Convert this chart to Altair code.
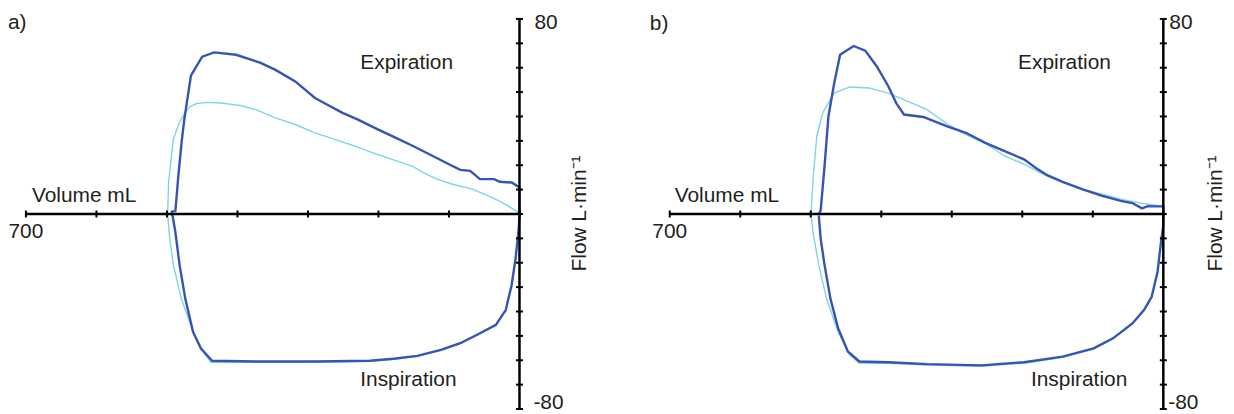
import altair as alt
import pandas as pd

# ---------------- data (volume mL, flow L/min) ----------------
# Panel a
a_dark_exp_vol = [493, 493, 488, 484, 479, 475.5, 466, 450, 433, 402, 368, 346, 318, 290, 279, 251, 229, 201, 179, 151, 123, 100, 84, 70, 56, 36, 28, 11, 0, 0]
a_dark_exp_flow = [0, 1, 1.2, 15, 30, 38.5, 56.7, 64.5, 66.3, 65.3, 62.1, 59.1, 54.4, 47.6, 45.8, 41.5, 38.7, 34.7, 31.7, 27.9, 23.8, 20.4, 18.1, 17.7, 14.3, 14.3, 13.2, 12.9, 10.9, 0]
a_dark_insp_vol = [0, 1, 5.6, 11.2, 19.5, 33.5, 56, 84, 111.5, 145, 178.5, 212, 290, 374, 436, 452, 463, 474, 482, 488, 492, 493]
a_dark_insp_flow = [0, -6, -18.4, -29.2, -39.4, -45.5, -48.9, -53, -55.7, -58.2, -59.4, -60.2, -60.5, -60.5, -60.2, -55.1, -48.3, -34.7, -21, -7.5, -0.7, 0]

a_light_exp_vol = [499, 497.6, 491, 482.4, 478, 468.6, 458, 443, 424, 396, 374, 346, 318, 290, 262, 234, 206, 178.5, 150.6, 136.7, 117, 95, 67, 39, 16.7, 5.6, 0]
a_light_exp_flow = [0, 12.9, 30.6, 37.5, 39.7, 43.8, 45.3, 45.8, 45.5, 44.5, 42.8, 39.4, 36.7, 33.3, 30.6, 27.9, 24.9, 22.2, 19.4, 17, 14.3, 12.2, 10.2, 6.8, 3.4, 1.4, 0]
a_light_insp_vol = [0, 1.1, 5.6, 11.2, 19.5, 33.5, 55.8, 83.7, 111.5, 145, 178.5, 212, 290, 374, 437.6, 448.8, 462.8, 479.7, 490.8, 496, 499]
a_light_insp_flow = [0, -6.3, -18.6, -29.4, -39.6, -45.7, -49.1, -53.2, -55.9, -58.4, -59.6, -60.4, -60.7, -60.8, -60.8, -56.4, -48.3, -34.7, -21, -10.2, 0]

# Panel b
b_dark_exp_vol = [488.6, 486, 480.4, 474.9, 466.7, 458.4, 439.2, 422.7, 406.3, 389.8, 378.8, 367.8, 340.4, 307.4, 280, 252.5, 225, 197.6, 181.2, 164.7, 142.7, 115.3, 87.8, 60.4, 43.9, 30.2, 22, 13.7, 0, 0]
b_dark_exp_flow = [0, 1.4, 19.7, 40.1, 53.7, 65.3, 68.9, 67, 60.5, 52.3, 45.5, 40.8, 39.8, 36, 33.3, 29.2, 25.8, 22.4, 19, 15.9, 13.2, 10.2, 7.5, 5.4, 4.5, 2.3, 3.2, 3.1, 3.1, 0]
b_dark_insp_vol = [0, 0, 2.7, 8.2, 16.5, 27.4, 43.9, 71.4, 98.8, 142.7, 197.6, 258, 334.9, 389.8, 431, 447.4, 461.2, 472.1, 480.4, 485.9, 488.6]
b_dark_insp_flow = [0, -4.8, -10.2, -23.8, -34, -39.4, -44.9, -51, -55.1, -58.5, -60.8, -62.1, -61.6, -60.8, -60.5, -56.4, -46.9, -34.7, -21, -10.2, -0.7]

b_light_exp_vol = [499.6, 496.8, 491.4, 483.1, 466.7, 444.7, 417.3, 389.8, 362.3, 334.9, 307.4, 280, 252.5, 225, 197.6, 170.1, 142.7, 115.3, 87.8, 60.4, 32.9, 5.5, 0]
b_light_exp_flow = [0, 14.3, 31.9, 41.5, 49.6, 52.1, 51.7, 49.6, 46.2, 42.8, 37.1, 32.6, 29, 23.8, 20.4, 16.3, 12.9, 10.2, 8.2, 6.1, 4.5, 3.4, 3.1]
b_light_insp_vol = [0, 2.7, 8.2, 16.5, 27.4, 43.9, 71.4, 98.8, 142.7, 197.6, 258, 334.9, 389.8, 431, 444.7, 461.2, 477.6, 488.6, 496.8, 499.6]
b_light_insp_flow = [-4.8, -10.4, -24, -34.2, -39.6, -45.1, -51.2, -55.3, -58.8, -61.2, -62.5, -62, -61.2, -61.2, -57.8, -48.3, -34.7, -21, -7.5, 0]

# Axis ticks and labels
flow_ticks = list(range(-80, 81, 10))
vol_ticks = list(range(0, 701, 100))
flow_labels = [80, -80]
vol_labels = [700]

DARK = "#3654b3"
LIGHT = "#7ed4ea"
INK = "#231f20"
FONT = "Liberation Sans"

H = 406
K = 496 / 700.0  # px per mL
PXF = 2.45        # px per L/min


def loop_df(exp_v, exp_f, insp_v, insp_f):
    v = exp_v + insp_v
    f = exp_f + insp_f
    return pd.DataFrame({"vol": v, "flow": f, "i": list(range(len(v)))})


def panel(dark, light, W, x0, letter, txt):
    xs = alt.Scale(domain=[700 + x0 / K, 700 - (W - x0) / K], nice=False, zero=False)
    ys = alt.Scale(domain=[80 - (H - 10) / PXF, 80 + 10 / PXF], nice=False, zero=False)
    X = lambda f: alt.X(f, type="quantitative", scale=xs, axis=None)
    Y = lambda f: alt.Y(f, type="quantitative", scale=ys, axis=None)

    light_line = alt.Chart(light).mark_line(color=LIGHT, strokeWidth=1.4).encode(
        x=X("vol"), y=Y("flow"), order="i:Q")
    dark_line = alt.Chart(dark).mark_line(color=DARK, strokeWidth=2.4).encode(
        x=X("vol"), y=Y("flow"), order="i:Q")

    vaxis = alt.Chart(pd.DataFrame({"vol": [0], "f1": [flow_ticks[-1]], "f2": [flow_ticks[0]]})).mark_rule(
        color="black", strokeWidth=2.5).encode(x=X("vol"), y=Y("f1"), y2="f2")
    haxis = alt.Chart(pd.DataFrame({"v1": [vol_ticks[-1]], "v2": [vol_ticks[0]], "flow": [0]})).mark_rule(
        color="black", strokeWidth=2.5).encode(x=X("v1"), x2="v2", y=Y("flow"))
    vt = alt.Chart(pd.DataFrame({"vol": [0] * len(flow_ticks), "flow": flow_ticks})).mark_rule(
        color="black", strokeWidth=2, xOffset=-3.5, x2Offset=3.5).encode(x=X("vol"), x2="vol", y=Y("flow"))
    ht = alt.Chart(pd.DataFrame({"vol": vol_ticks, "flow": [0] * len(vol_ticks)})).mark_rule(
        color="black", strokeWidth=2, yOffset=-3.5, y2Offset=3.5).encode(x=X("vol"), y=Y("flow"), y2="flow")

    top_lab = alt.Chart(pd.DataFrame({"vol": [0], "flow": [flow_labels[0]], "t": [str(flow_labels[0])]})).mark_text(
        align="left", baseline="alphabetic", dx=txt["dx80"], dy=10, font=FONT, fontSize=21, color=INK).encode(
        x=X("vol"), y=Y("flow"), text="t")
    bot_lab = alt.Chart(pd.DataFrame({"vol": [0], "flow": [flow_labels[1]], "t": [str(flow_labels[1])]})).mark_text(
        align="left", baseline="alphabetic", dx=txt["dx80"] - 1, dy=0, font=FONT, fontSize=21, color=INK).encode(
        x=X("vol"), y=Y("flow"), text="t")
    vlab = alt.Chart(pd.DataFrame({"vol": vol_labels, "flow": [0], "t": [str(v) for v in vol_labels]})).mark_text(
        align="center", baseline="alphabetic", dy=24, font=FONT, fontSize=21, color=INK).encode(
        x=X("vol"), y=Y("flow"), text="t")

    def label(s, x, y, **kw):
        return alt.Chart(pd.DataFrame({"t": [s]})).mark_text(
            font=FONT, fontSize=21, color=INK, **kw).encode(
            x=alt.value(x), y=alt.value(y), text="t")

    anns = [
        label(letter, 0, txt["lety"], align="left", baseline="alphabetic"),
        label("Volume mL", txt["volx"], 194, align="left", baseline="alphabetic"),
        label("Expiration", txt["expx"], 60, align="left", baseline="alphabetic"),
        label("Inspiration", txt["insx"], 379, align="left", baseline="alphabetic"),
        label("Flow L·min⁻¹", txt["flowx"], 205.5, align="center", baseline="middle", angle=270),
    ]

    return alt.layer(light_line, dark_line, haxis, vaxis, vt, ht, top_lab, bot_lab, vlab, *anns).properties(
        width=W, height=H)


pa = panel(loop_df(a_dark_exp_vol, a_dark_exp_flow, a_dark_insp_vol, a_dark_insp_flow),
           loop_df(a_light_exp_vol, a_light_exp_flow, a_light_insp_vol, a_light_insp_flow),
           645, 18, "a)", {"dx80": 15, "lety": 20, "volx": 24, "expx": 354, "insx": 354, "flowx": 575})
pb = panel(loop_df(b_dark_exp_vol, b_dark_exp_flow, b_dark_insp_vol, b_dark_insp_flow),
           loop_df(b_light_exp_vol, b_light_exp_flow, b_light_insp_vol, b_light_insp_flow),
           573, 20, "b)", {"dx80": 6, "lety": 21, "volx": 25, "expx": 370, "insx": 383, "flowx": 569})

chart = alt.hconcat(pa, pb, spacing=0).properties(padding=0).configure_view(stroke=None)
chart.save("out.html", embed_options={"renderer": "svg", "actions": False})
